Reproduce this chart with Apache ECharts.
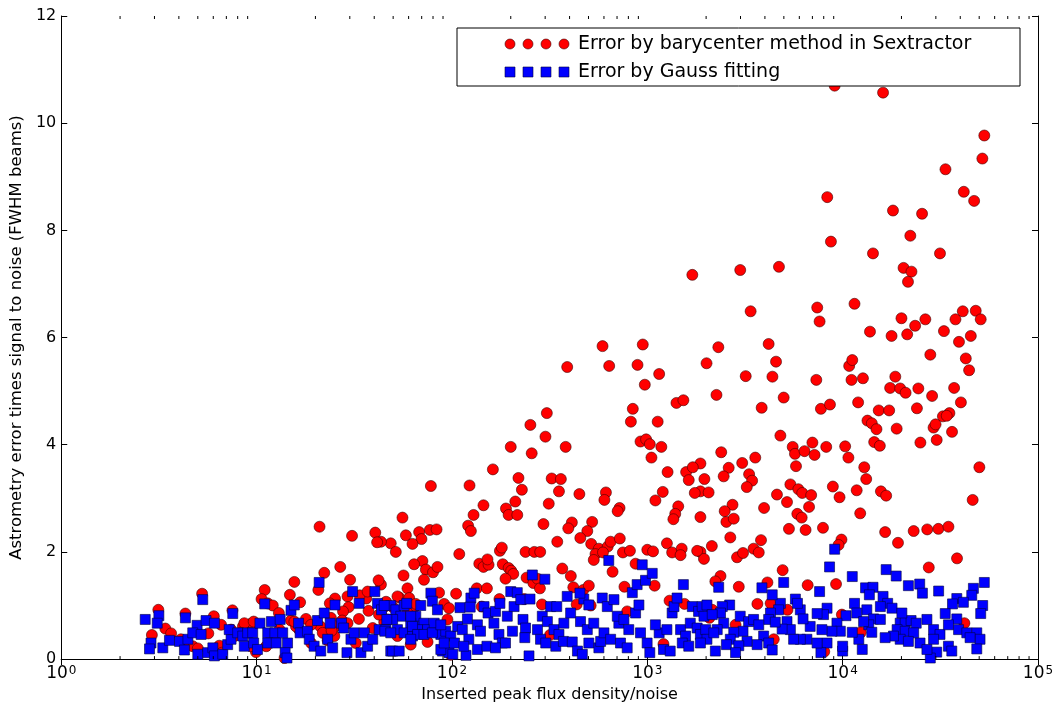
<!DOCTYPE html>
<html>
<head>
<meta charset="utf-8">
<script src="https://cdn.jsdelivr.net/npm/echarts@6/dist/echarts.min.js"></script>
<style>
html,body{margin:0;padding:0;background:#fff;}
#chart{width:1057px;height:708px;}
</style>
</head>
<body>
<div id="chart"></div>
<script>
// ---- data: [inserted peak flux density / noise, astrometry error x S/N (FWHM beams)] ----
const barycenterPoints = [
[9100,10.70],[16100,10.57],[53100,9.77],[51900,9.34],[33600,9.14],[41700,8.72],[47100,8.55],[8340,8.62],[18100,8.37],[25500,8.31],
[22200,7.90],[8710,7.79],[14300,7.57],[31500,7.57],[2990,7.26],[4720,7.32],[20500,7.30],[22500,7.23],[21600,7.04],[3380,6.49],
[7410,6.56],[7620,6.30],[11500,6.63],[20000,6.36],[23500,6.22],[26500,6.34],[37800,6.34],[41200,6.49],[48000,6.50],[50900,6.34],
[13800,6.11],[17800,6.03],[21400,6.06],[33000,6.12],[39400,5.92],[45300,6.03],[2310,5.82],[2010,5.52],[4180,5.88],[4560,5.55],
[3190,5.28],[4370,5.27],[7330,5.21],[10800,5.47],[11200,5.58],[11100,5.21],[12700,5.24],[18600,5.27],[28100,5.68],[42700,5.61],
[44400,5.39],[17500,5.06],[19700,5.05],[24400,5.05],[37200,5.06],[2260,4.93],[4990,4.88],[3850,4.69],[7740,4.67],[8610,4.75],
[12000,4.79],[21000,4.97],[28700,4.91],[40300,4.79],[15300,4.64],[17300,4.64],[24000,4.68],[35200,4.59],[32600,4.53],[34100,4.54],
[13400,4.45],[14100,4.40],[14900,4.29],[18900,4.30],[29200,4.32],[29900,4.38],[30300,4.09],[36300,4.24],[14500,4.05],[15500,3.98],
[25000,4.04],[4800,4.17],[2390,3.86],[1870,3.65],[1960,3.36],[1870,3.13],[2060,3.11],[1870,2.65],[1870,2.00],[1950,1.87],
[2610,3.57],[2460,3.41],[3060,3.66],[3570,3.76],[3320,3.45],[3440,3.33],[3230,3.21],[2730,2.88],[2490,2.76],[2540,2.56],
[2770,2.62],[2660,2.27],[2140,2.11],[2880,1.90],[3090,1.98],[3500,2.06],[3720,1.99],[3820,2.22],[3960,2.82],[4610,3.07],
[5190,2.93],[5550,3.96],[5700,3.83],[6380,3.88],[7000,4.04],[7180,3.81],[8240,3.96],[5770,3.60],[5400,3.26],[5930,3.17],
[6210,3.10],[6900,3.06],[6730,2.84],[5860,2.71],[6170,2.64],[5310,2.43],[6460,2.41],[7930,2.45],[8910,3.22],[9640,3.02],
[10300,3.97],[10700,3.76],[12900,3.58],[13200,3.36],[11800,3.15],[12300,2.72],[15700,3.13],[16700,3.05],[9860,2.23],[9530,2.13],
[16500,2.37],[19200,2.17],[23100,2.39],[27100,2.42],[30900,2.43],[34800,2.47],[46300,2.97],[50100,3.58],[38500,1.88],[27600,1.71],
[2370,1.55],[2230,1.45],[4930,1.66],[2940,1.35],[4120,1.43],[6620,1.38],[9250,1.40],[3660,1.03],[4280,1.04],[5220,0.92],
[2150,0.92],[2080,0.77],[2830,0.64],[9910,0.83],[12400,0.50],[4440,0.37],[8050,0.14],[42000,0.67],[1700,7.17],[590,5.84],
[948,5.87],[389,5.45],[638,5.47],[891,5.49],[1150,5.32],[971,5.12],[1410,4.78],[1530,4.83],[843,4.67],[306,4.59],
[252,4.37],[824,4.43],[1130,4.43],[301,4.15],[923,4.06],[986,4.10],[1030,4.01],[1180,3.96],[200,3.96],[382,3.96],
[1050,3.76],[256,3.84],[162,3.54],[219,3.38],[228,3.16],[211,2.94],[189,2.81],[195,2.69],[216,2.69],[145,2.87],
[129,2.69],[123,3.24],[78,3.23],[121,2.49],[125,2.39],[55.8,2.64],[324,3.37],[361,3.36],[353,3.13],[313,2.90],
[294,2.52],[346,2.19],[449,3.08],[1270,3.49],[1580,3.49],[1630,3.34],[1710,3.58],[1200,3.12],[1100,2.96],[1750,3.10],
[614,3.11],[603,2.97],[1440,2.85],[1390,2.71],[1360,2.61],[721,2.82],[705,2.76],[411,2.55],[394,2.44],[522,2.56],
[493,2.39],[454,2.26],[238,2.00],[264,2.00],[283,2.00],[176,2.02],[180,2.08],[109,1.96],[67.9,2.37],[69.8,2.24],
[77.1,2.41],[83.4,2.42],[58.1,2.31],[62.8,2.15],[48.6,2.16],[51.6,2.00],[43.3,2.19],[70.6,1.83],[73.5,1.67],[80.0,1.62],
[84.3,1.72],[64.0,1.77],[71.9,1.48],[56.5,1.56],[59.2,1.32],[43.3,1.39],[138,1.78],[145,1.72],[154,1.76],[152,1.86],
[182,1.77],[195,1.70],[201,1.65],[206,1.59],[188,1.50],[134,1.32],[151,1.32],[241,1.52],[261,1.42],[274,1.50],
[367,1.69],[406,1.55],[282,1.32],[418,1.34],[470,1.29],[502,1.37],[516,2.15],[565,2.06],[627,2.10],[649,2.19],
[723,2.25],[543,1.96],[593,1.99],[532,1.85],[750,1.99],[815,2.02],[664,1.63],[871,1.78],[1000,2.04],[1070,2.01],
[1260,2.16],[1340,1.99],[1500,2.06],[1480,1.94],[1800,2.02],[1090,1.37],[764,1.35],[105,1.22],[85.9,1.24],[64.6,0.98],
[91.2,1.03],[96.6,0.95],[53.7,1.15],[60.4,1.14],[45.3,0.98],[142,0.98],[175,1.12],[234,1.12],[289,1.02],[435,1.02],
[513,1.00],[789,0.89],[1300,1.09],[1550,1.03],[1210,0.28],[75.0,0.32],[98.6,0.08],[318,0.45],[43.3,0.83],[45.0,0.69],
[21.0,2.47],[30.8,2.30],[40.5,2.36],[41.4,2.18],[22.2,1.61],[26.8,1.72],[15.6,1.44],[20.7,1.29],[14.8,1.20],[11.0,1.29],
[10.6,1.12],[11.4,1.04],[12.1,1.00],[16.7,1.06],[13.0,0.86],[30.1,1.48],[42.1,1.47],[65.3,1.03],[29.2,1.17],[36.4,1.13],
[33.7,1.19],[37.0,1.26],[25.2,1.13],[23.7,1.04],[29.6,0.97],[27.7,0.89],[37.4,0.90],[42.3,0.83],[46.8,0.74],[52.6,1.17],
[33.4,0.75],[39.3,0.58],[46.0,1.07],[49.8,0.97],[59.2,0.86],[94.8,0.74],[24.0,0.77],[25.2,0.61],[27.4,0.72],[21.2,0.61],
[21.8,0.49],[17.9,0.75],[19.0,0.64],[16.5,0.55],[15.0,0.72],[15.9,0.61],[13.1,0.55],[9.35,0.66],[8.51,0.61],[7.40,0.55],
[7.69,0.43],[5.26,1.22],[3.14,0.92],[3.41,0.57],[3.65,0.48],[2.91,0.45],[4.32,0.85],[6.04,0.80],[5.66,0.48],[4.71,0.24],
[4.27,0.33],[6.44,0.25],[6.64,0.12],[9.93,0.13],[9.35,0.24],[11.2,0.24],[11.9,0.40],[13.9,0.02],[19.0,0.30],[23.1,0.35],
[25.0,0.43],[52.6,0.43],[61.5,0.27],[7.52,0.91],[4.10,0.37],[5.00,0.20],[6.58,0.64],[8.65,0.67],[9.66,0.70],[8.32,0.49],
[15.6,0.70],[24.2,0.53],[32.2,0.30],[29.2,0.67]
];
const gaussPoints = [
[2.69,0.74],[3.16,0.81],[3.10,0.67],[4.32,0.77],[5.30,1.11],[7.55,0.85],[4.96,0.63],[5.51,0.72],[6.08,0.67],[2.88,0.30],
[2.83,0.19],[3.31,0.21],[3.58,0.35],[4.03,0.33],[4.27,0.17],[4.45,0.37],[4.71,0.49],[5.20,0.46],[5.00,0.09],[5.62,0.12],
[5.97,0.21],[6.08,0.06],[6.71,0.09],[7.11,0.27],[7.40,0.37],[7.24,0.55],[8.00,0.49],[8.49,0.43],[9.00,0.49],[9.55,0.49],
[8.65,0.24],[9.66,0.30],[10.1,0.18],[10.4,0.67],[11.0,1.03],[11.9,0.70],[13.2,0.74],[11.4,0.49],[12.4,0.49],[13.6,0.49],
[11.4,0.30],[12.6,0.30],[14.4,0.30],[14.0,0.12],[14.3,0.02],[15.0,0.91],[15.6,1.01],[16.4,0.67],[16.7,0.49],[18.2,0.52],
[18.6,0.37],[20.5,0.72],[20.9,1.43],[22.2,0.86],[23.8,0.67],[19.7,0.24],[21.3,0.15],[23.1,0.37],[24.5,0.21],[25.2,1.01],
[27.2,0.67],[27.9,0.58],[29.0,0.12],[30.4,0.37],[31.6,0.49],[31.0,1.26],[33.5,1.04],[35.6,0.49],[34.2,0.12],[37.0,0.24],
[39.3,0.37],[40.3,1.26],[41.6,1.04],[43.6,0.92],[42.4,0.55],[45.9,0.55],[48.6,0.15],[48.6,1.00],[51.6,0.92],[56.9,1.00],
[78.0,1.23],[79.4,1.08],[84.3,0.92],[69.2,1.00],[65.3,0.80],[54.7,0.80],[49.7,0.74],[61.5,0.67],[67.9,0.61],[71.9,0.67],
[52.6,0.55],[56.9,0.49],[62.8,0.43],[66.7,0.55],[75.0,0.55],[49.7,0.15],[53.7,0.15],[87.7,0.46],[92.9,0.52],[98.6,0.43],
[107,0.61],[89.3,0.15],[96.6,0.12],[45.0,1.00],[58.7,1.04],[45.3,0.52],[48.6,0.49],[46.4,0.74],[61.5,0.80],[62.8,0.61],
[66.7,0.46],[61.5,0.37],[71.9,0.46],[81.1,0.67],[79.4,0.49],[87.7,0.64],[87.7,0.18],[103,0.30],[91.2,0.30],[101,0.09],
[118,0.07],[110,0.96],[125,1.14],[124,0.97],[120,0.75],[113,0.55],[122,0.37],[115,0.24],[130,1.23],[135,0.64],
[140,0.52],[135,0.18],[151,0.24],[146,0.98],[153,0.86],[167,0.89],[176,1.04],[164,0.67],[174,0.46],[181,0.30],
[167,0.21],[192,0.80],[204,0.52],[188,0.30],[200,1.26],[216,1.24],[208,0.98],[225,1.11],[231,0.74],[238,0.58],
[236,0.40],[251,1.12],[258,1.57],[299,1.49],[248,0.06],[274,0.55],[284,0.37],[302,0.30],[290,0.80],[308,0.70],
[320,0.98],[344,0.98],[333,0.55],[353,0.46],[340,0.24],[372,0.33],[374,0.67],[405,0.86],[389,1.17],[413,0.32],
[439,0.15],[465,0.09],[455,0.70],[473,1.12],[452,1.23],[502,1.01],[493,0.55],[532,0.67],[502,0.30],[565,0.21],
[577,0.33],[600,0.49],[588,1.14],[624,0.98],[675,1.11],[635,1.84],[649,0.37],[729,0.30],[715,0.67],[702,0.80],
[759,0.74],[804,0.55],[789,0.21],[838,1.24],[887,1.39],[942,1.76],[979,1.47],[1060,1.60],[871,0.86],[906,1.01],
[923,0.49],[998,0.30],[1030,0.12],[1150,0.49],[1100,0.64],[1210,0.18],[1310,0.15],[1260,0.55],[1340,0.86],[1370,0.98],
[1420,1.14],[1530,1.39],[1480,0.55],[1570,0.43],[1660,0.67],[1700,0.98],[1830,0.89],[1910,0.98],[1800,0.58],[1870,0.46],
[1990,0.55],[1510,0.30],[1630,0.24],[2020,0.37],[9100,2.05],[8570,1.72],[16700,1.67],[18800,1.55],[11200,1.54],[2320,1.34],
[3860,1.33],[4990,1.43],[7620,1.26],[13100,1.33],[14300,1.34],[13700,1.20],[16100,1.17],[17000,1.04],[15600,0.98],[17900,0.95],
[21700,1.37],[24800,1.40],[25600,1.23],[31000,1.27],[46700,1.32],[53100,1.43],[45800,1.19],[52100,1.00],[50900,0.85],[38400,1.13],
[41500,1.06],[36500,1.03],[33500,0.85],[38400,0.75],[27000,0.74],[19700,0.67],[20900,0.70],[22400,0.72],[23800,0.67],[19000,0.55],
[20900,0.52],[23100,0.49],[29200,0.55],[31500,0.46],[34800,0.64],[39200,0.55],[43200,0.49],[48600,0.49],[50500,0.37],[48600,0.19],
[44900,0.40],[29200,0.37],[30300,0.13],[28100,0.02],[34800,0.24],[36200,0.15],[24900,0.30],[27000,0.18],[19700,0.37],[18200,0.43],
[21700,0.33],[16500,0.40],[13300,0.92],[14400,0.75],[15600,0.74],[13600,0.64],[11500,1.04],[11800,0.86],[12800,0.70],[14100,0.50],
[12100,0.37],[12600,0.18],[10400,0.81],[11200,0.50],[10000,0.15],[9350,0.67],[9730,0.52],[8810,0.52],[8320,0.95],[7980,0.83],
[7400,0.85],[7830,0.55],[8320,0.30],[7740,0.12],[6820,0.61],[6560,0.37],[6070,0.37],[7400,0.30],[6070,0.92],[5730,1.12],
[5870,1.04],[6270,0.75],[5190,0.70],[5400,0.55],[4900,0.56],[5610,0.37],[4800,1.04],[4700,0.92],[4360,1.20],[4270,0.86],
[4180,0.74],[4520,0.69],[3940,0.43],[4180,0.30],[4360,0.17],[3650,0.27],[3240,0.33],[2990,0.80],[3300,0.70],[3500,0.74],
[3720,0.64],[3090,0.52],[2770,0.50],[2660,0.37],[2540,0.27],[2940,0.25],[2830,0.12],[2640,1.01],[2420,0.98],[2370,0.86],
[2460,0.67],[2280,0.55],[2020,1.01],[1950,0.80],[2150,0.83],[2190,0.49],[2230,0.15],[1870,0.30],[20100,0.86],[10000,0.24]
];
const seriesNames = ['Error by barycenter method in Sextractor', 'Error by Gauss fitting'];
const xAxisName = 'Inserted peak flux density/noise';
const yAxisName = 'Astrometry error times signal to noise (FWHM beams)';
const xRange = [1, 100000];
const yRange = [0, 12];
const yTickStep = 2;

// minor tick positions on the log axis (2..9 x 10^n)
const minorTickValues = [];
for (let e = 0; e < 5; e++) {
  for (let m = 2; m <= 9; m++) minorTickValues.push([m * Math.pow(10, e), 0]);
}

const FONT = 'DejaVu Sans';
const chart = echarts.init(document.getElementById('chart'), null, {renderer: 'canvas'});

const G = {left: 60, right: 19, top: 16, bottom: 45};

const xCommon = {
  type: 'log', logBase: 10, min: xRange[0], max: xRange[1], splitNumber: 5,
  axisLine: {show: true, lineStyle: {color: '#000', width: 1}},
  axisTick: {show: true, inside: true, length: 6, lineStyle: {color: '#000', width: 1}},
  splitLine: {show: false}
};
const yCommon = {
  type: 'value', min: yRange[0], max: yRange[1], interval: yTickStep,
  axisLine: {show: true, lineStyle: {color: '#000', width: 1}},
  axisTick: {show: true, inside: true, length: 6, lineStyle: {color: '#000', width: 1}},
  splitLine: {show: false}
};

const legendX = 457, legendY = 28, legendW = 563, legendH = 58;
const legendGraphics = [
  {type: 'rect', shape: {x: legendX, y: legendY, width: legendW, height: legendH},
   style: {fill: '#fff', stroke: '#000', lineWidth: 1}, z: 100}
];
const markerXs = [510, 528, 546, 564];
markerXs.forEach(function (mx) {
  legendGraphics.push({type: 'circle', shape: {cx: mx, cy: 44, r: 5},
    style: {fill: '#ff0000', stroke: '#400000', lineWidth: 0.6}, z: 101});
  legendGraphics.push({type: 'rect', shape: {x: mx - 5, y: 67, width: 10, height: 10},
    style: {fill: '#0000ff', stroke: '#000040', lineWidth: 0.6}, z: 101});
});
legendGraphics.push({type: 'text', x: 578, y: 44, style: {text: seriesNames[0], fill: '#000',
  font: '19px "' + FONT + '"', textVerticalAlign: 'middle', verticalAlign: 'middle'}, z: 101});
legendGraphics.push({type: 'text', x: 578, y: 72, style: {text: seriesNames[1], fill: '#000',
  font: '19px "' + FONT + '"', textVerticalAlign: 'middle', verticalAlign: 'middle'}, z: 101});

const option = {
  animation: false,
  backgroundColor: '#fff',
  textStyle: {fontFamily: FONT},
  grid: {left: G.left, right: G.right, top: G.top, bottom: G.bottom, containLabel: false},
  xAxis: [
    Object.assign({}, xCommon, {
      position: 'bottom',
      name: xAxisName, nameLocation: 'middle', nameGap: 26,
      nameTextStyle: {fontSize: 16, color: '#000', fontFamily: FONT, verticalAlign: 'top'},
      axisLabel: {
        show: true, margin: 6, color: '#000',
        formatter: function (v) {
          const e = Math.round(Math.log10(v));
          return '{b|10}{s|' + e + '}';
        },
        rich: {
          b: {fontSize: 17, fontFamily: FONT, color: '#000', verticalAlign: 'bottom'},
          s: {fontSize: 12, fontFamily: FONT, color: '#000', verticalAlign: 'top', padding: [0, 0, 0, 1]}
        }
      }
    }),
    Object.assign({}, xCommon, {position: 'top', axisLabel: {show: false}})
  ],
  yAxis: [
    Object.assign({}, yCommon, {
      position: 'left',
      name: yAxisName, nameLocation: 'middle', nameGap: 34,
      nameTextStyle: {fontSize: 16.5, color: '#000', fontFamily: FONT},
      axisLabel: {show: true, margin: 5, fontSize: 16, color: '#000', fontFamily: FONT}
    }),
    Object.assign({}, yCommon, {position: 'right', axisLabel: {show: false}})
  ],
  graphic: legendGraphics,
  series: [
    {
      name: seriesNames[0], type: 'scatter', xAxisIndex: 0, yAxisIndex: 0,
      symbol: 'circle', symbolSize: 11,
      itemStyle: {color: '#ff0000', borderColor: '#400000', borderWidth: 0.6, opacity: 1},
      data: barycenterPoints, z: 2, silent: true
    },
    {
      name: seriesNames[1], type: 'scatter', xAxisIndex: 0, yAxisIndex: 0,
      symbol: 'rect', symbolSize: 10,
      itemStyle: {color: '#0000ff', borderColor: '#000040', borderWidth: 0.6, opacity: 1},
      data: gaussPoints, z: 3, silent: true
    },
    {
      type: 'custom', xAxisIndex: 0, yAxisIndex: 0, silent: true, z: 5,
      clip: false,
      data: minorTickValues,
      renderItem: function (params, api) {
        const v = api.value(0);
        const pb = api.coord([v, yRange[0]]);
        const pt = api.coord([v, yRange[1]]);
        return {
          type: 'group',
          children: [
            {type: 'line', shape: {x1: pb[0], y1: pb[1], x2: pb[0], y2: pb[1] - 3}, style: {stroke: '#000', lineWidth: 1}},
            {type: 'line', shape: {x1: pt[0], y1: pt[1], x2: pt[0], y2: pt[1] + 3}, style: {stroke: '#000', lineWidth: 1}}
          ]
        };
      }
    }
  ]
};
chart.setOption(option);
</script>
</body>
</html>
